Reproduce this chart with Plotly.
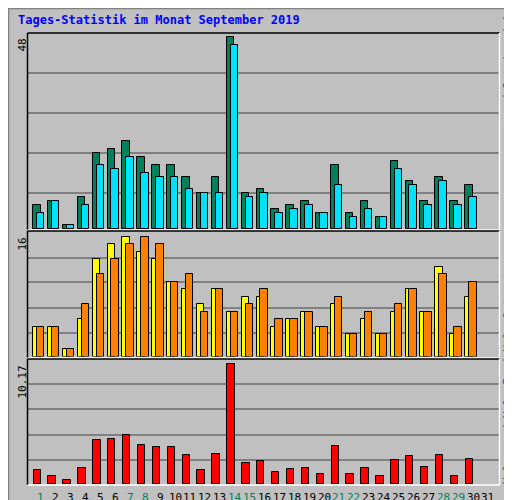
import plotly.graph_objects as go

days = list(range(1, 32))
anfragen = [6,7,1,8,19,20,22,18,16,16,13,9,13,48,9,10,5,6,7,4,16,4,7,3,17,12,7,13,7,11,None]
dateien  = [4,7,1,6,16,15,18,14,13,13,10,9,9,46,8,9,4,5,6,4,11,3,5,3,15,11,6,12,6,8,None]
besuche  = [4,4,1,5,13,15,16,14,13,10,9,7,9,6,8,8,4,5,6,4,7,3,5,3,6,9,6,12,3,8,None]
rechner  = [4,4,1,7,11,13,15,16,15,10,11,6,9,6,7,9,5,5,6,4,8,3,6,3,7,9,6,11,4,10,None]
volumen  = [1.16,0.65,0.31,1.33,3.72,3.81,4.15,3.30,3.12,3.12,2.44,1.16,2.53,10.17,1.76,1.93,
            0.99,1.25,1.33,0.82,3.21,0.82,1.33,0.65,2.02,2.36,1.42,2.44,0.65,2.10,None]
weekend = {1,7,8,14,15,21,22,28,29}

W, H = 512, 500
def py(p): return 1 - p / H

fig = go.Figure()
def bars(y, color, off, axis):
    fig.add_bar(x=days, y=y, marker=dict(color=color, line=dict(color="black", width=1)),
                width=0.5, offset=off, xaxis="x", yaxis=axis, showlegend=False, hoverinfo="skip")
bars(anfragen, "#00805c", -0.53, "y")
bars(dateien, "#00e0ff", -0.27, "y")
bars(besuche, "#ffff00", -0.53, "y2")
bars(rechner, "#ff8000", -0.27, "y2")
bars(volumen, "#ff0000", -0.5, "y3")

grid = dict(showgrid=True, gridcolor="#808080", gridwidth=1.5, showticklabels=False,
            zeroline=False, ticks="", showline=False, fixedrange=True)
xd = [20/W, 491/W]
fig.update_layout(
    width=W, height=H, margin=dict(l=0, r=0, t=0, b=0),
    paper_bgcolor="#c0c0c0", plot_bgcolor="#c0c0c0", barmode="overlay", bargap=0,
    font=dict(family="DejaVu Sans Mono", size=11, color="black"),
    xaxis=dict(domain=xd, range=[0.13, 31.74], showticklabels=False, showgrid=False,
               zeroline=False, ticks="", anchor="y3", fixedrange=True),
    yaxis=dict(domain=[py(221), py(25)], range=[0, 49], tickvals=[8.95, 18.98, 29, 39], anchor="x", **grid),
    yaxis2=dict(domain=[py(348.5), py(224)], range=[0, 16.6], tickvals=[3.2, 6.53, 9.87, 13.2], anchor="x", **grid),
    yaxis3=dict(domain=[py(476), py(352)], range=[0, 10.53], tickvals=[2.07, 4.2, 6.33, 8.47], anchor="x", **grid),
)

shapes = []
for top, bot in [(25, 222), (223, 350), (351, 477)]:
    shapes.append(dict(type="line", xref="paper", yref="paper", x0=19.5/W, x1=491.5/W, y0=py(top), y1=py(top), line=dict(color="black", width=1.5)))
    shapes.append(dict(type="line", xref="paper", yref="paper", x0=19.5/W, x1=19.5/W, y0=py(top), y1=py(bot), line=dict(color="black", width=1.5)))
    shapes.append(dict(type="line", xref="paper", yref="paper", x0=19.5/W, x1=491.5/W, y0=py(bot), y1=py(bot), line=dict(color="white", width=1.5)))
    shapes.append(dict(type="line", xref="paper", yref="paper", x0=491.5/W, x1=491.5/W, y0=py(top), y1=py(bot), line=dict(color="white", width=1.5)))
shapes.append(dict(type="rect", xref="paper", yref="paper", x0=0.5/W, x1=1-1.5/W, y0=py(498.5), y1=py(0.5), line=dict(color="#808080", width=1.5)))
fig.update_layout(shapes=shapes)

ann = []
for d in days:
    ann.append(dict(text=str(d), x=d, y=py(489), xref="x", yref="paper", xanchor="center", yanchor="middle",
                    showarrow=False, font=dict(size=11, family="DejaVu Sans Mono",
                                                color="#00805c" if d in weekend else "black")))

parts = [("Volumen", "#ff0000"), ("Vol. In", "#0040ff"), ("Vol. Out", "#00805c"), ("Rechner", "#ff8000"),
         ("Besuche", "#ffff00"), ("Seiten", "#00e0ff"), ("Dateien", "#0040ff"), ("Anfragen", "#00805c")]
# place each part separately along the right edge (bottom to top)
cw = 6.6
pos = 476.0
for i, (t, c) in enumerate(parts):
    ln = len(t) * cw
    ann.append(dict(text=t, textangle=-90, x=500/W, y=py(pos - ln / 2), xref="paper", yref="paper",
                    xanchor="center", yanchor="middle", showarrow=False,
                    font=dict(size=11, family="DejaVu Sans Mono", color=c)))
    pos -= ln
    if i < len(parts) - 1:
        ann.append(dict(text="/", textangle=-90, x=500/W, y=py(pos - 9.9), xref="paper", yref="paper",
                        xanchor="center", yanchor="middle", showarrow=False,
                        font=dict(size=11, family="DejaVu Sans Mono", color="#404040")))
        pos -= 19.8

ann.append(dict(text="<b>Tages-Statistik im Monat September 2019</b>", x=8/W, y=py(12), xanchor="left", yanchor="middle",
                showarrow=False, font=dict(color="#0000ff", size=12, family="DejaVu Sans Mono"), xref="paper", yref="paper"))
for lab, p in [("48", 29), ("16", 228), ("10.17", 356)]:
    ann.append(dict(text=lab, textangle=-90, x=14/W, y=py(p), xanchor="center", yanchor="top", showarrow=False,
                    font=dict(size=11, family="DejaVu Sans Mono"), xref="paper", yref="paper"))
fig.update_layout(annotations=ann)
fig.write_html("out.html")
